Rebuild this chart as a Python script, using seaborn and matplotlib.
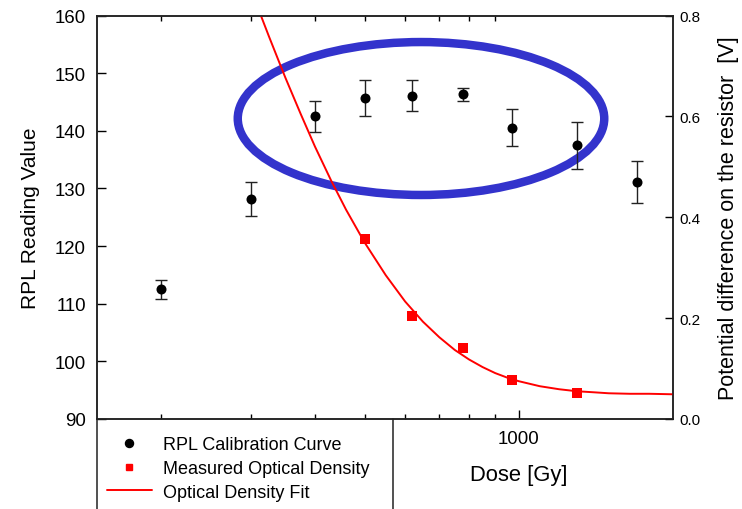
import matplotlib
matplotlib.use("Agg")
import matplotlib.pyplot as plt
from matplotlib.lines import Line2D
from matplotlib.patches import Ellipse
from matplotlib.ticker import FixedLocator, FixedFormatter, NullFormatter
import seaborn as sns

sns.set_theme(style="ticks")
plt.rcParams["font.family"] = ["Liberation Sans", "DejaVu Sans"]
plt.rcParams["text.color"] = "black"
plt.rcParams["axes.labelcolor"] = "black"
plt.rcParams["xtick.color"] = "black"
plt.rcParams["ytick.color"] = "black"

# RPL calibration curve (left axis)
dose_rpl = [200, 300, 400, 500, 620, 780, 970, 1300, 1700]
rpl_value = [112.5, 128.2, 142.5, 145.7, 146.1, 146.3, 140.5, 137.5, 131.1]
rpl_err = [1.7, 3.0, 2.7, 3.1, 2.7, 1.2, 3.2, 4.1, 3.6]

# measured optical density (right axis)
dose_od = [500, 620, 780, 970, 1300]
od_measured = [0.357, 0.205, 0.141, 0.077, 0.052]

# optical density fit
dose_fit = [300, 310, 325, 340, 350, 375, 400, 430, 460, 500, 550, 600, 650,
            700, 750, 800, 850, 900, 950, 1000, 1100, 1200, 1300, 1400, 1500,
            1650, 1800, 2000]
od_fit = [0.851, 0.813, 0.759, 0.709, 0.677, 0.605, 0.540, 0.473, 0.415, 0.350,
          0.285, 0.233, 0.193, 0.162, 0.137, 0.118, 0.103, 0.091, 0.082, 0.075,
          0.065, 0.059, 0.055, 0.053, 0.051, 0.050, 0.050, 0.049]

minor_ticks = [200, 300, 400, 500, 600, 700, 800, 900]
legend_labels = ["RPL Calibration Curve", "Measured Optical Density", "Optical Density Fit"]

W, H = 742, 510
fig = plt.figure(figsize=(W / 100, H / 100), dpi=100)
ax = fig.add_axes([97 / W, 90 / H, 575.7 / W, 403.5 / H])
ax.set_xscale("log")
ax.set_xlim(150, 2000)
ax.set_ylim(90, 160)

# highlight ellipse
ax.add_patch(Ellipse((0.5628, 0.7447), 0.6366, 0.379, transform=ax.transAxes,
                     fill=False, edgecolor="#3333cc", linewidth=6.1, zorder=1))

ax.errorbar(dose_rpl, rpl_value, yerr=rpl_err, fmt="none", ecolor="#222222",
            elinewidth=1, capsize=4.3, capthick=1, zorder=2)
sns.scatterplot(x=dose_rpl, y=rpl_value, ax=ax, color="black", s=52,
                linewidth=0, zorder=3)

ax2 = ax.twinx()
ax2.set_ylim(0, 0.8)
sns.lineplot(x=dose_fit, y=od_fit, ax=ax2, color="red", linewidth=1.4,
             estimator=None, sort=False, zorder=2)
sns.scatterplot(x=dose_od, y=od_measured, ax=ax2, marker="s", color="red",
                s=45, linewidth=0, zorder=3)
ax2.set_ylim(0, 0.8)
ax2.set_xlim(150, 2000)

# x ticks
ax.xaxis.set_major_locator(FixedLocator([1000]))
ax.xaxis.set_major_formatter(FixedFormatter(["1000"]))
ax.xaxis.set_minor_locator(FixedLocator(minor_ticks))
ax.xaxis.set_minor_formatter(NullFormatter())
ax.tick_params(axis="x", which="major", direction="in", length=6.5, width=1,
               top=False, bottom=True, labelsize=13.4, pad=8)
ax.tick_params(axis="x", which="minor", direction="in", length=3.6, width=1,
               top=True, bottom=True)

# y ticks
ax.set_yticks([90, 100, 110, 120, 130, 140, 150, 160])
ax.tick_params(axis="y", direction="in", length=6.5, width=1, left=True,
               right=False, labelsize=13.4, pad=8)
ax2.set_yticks([0.0, 0.2, 0.4, 0.6, 0.8])
ax2.set_yticklabels(["0.0", "0.2", "0.4", "0.6", "0.8"])
ax2.tick_params(axis="y", direction="in", length=6, width=1, right=True,
                labelsize=11, pad=5)

for a in (ax, ax2):
    for sp in a.spines.values():
        sp.set_linewidth(1.1)
        sp.set_color("#222222")

ax.set_xlabel("Dose [Gy]", fontsize=15.8)
ax.xaxis.set_label_coords(0.732, -0.1115)
ax.set_ylabel("RPL Reading Value", fontsize=15)
ax.yaxis.set_label_coords(-0.0995, 0.5)
ax2.set_ylabel("Potential difference on the resistor  [V]", fontsize=15.5)
ax2.yaxis.set_label_coords(1.0784, 0.5)

# legend box below the plot
handles = [
    Line2D([], [], marker="o", color="black", linestyle="none", markersize=5.8),
    Line2D([], [], marker="s", color="red", linestyle="none", markersize=5),
    Line2D([], [], color="red", linewidth=1.4),
]
fig.legend(handles, legend_labels, loc="upper left",
           bbox_to_anchor=(106.7 / W, 1 - 437 / H), frameon=False, fontsize=13,
           handlelength=2.5, handletextpad=0.6, labelspacing=0.38,
           borderpad=0, borderaxespad=0)
for xpix in (97, 393.3):
    fig.add_artist(Line2D([xpix / W, xpix / W], [0, 90 / H], color="#222222",
                          linewidth=1.1, transform=fig.transFigure))

fig.savefig("out.png", dpi=100)
